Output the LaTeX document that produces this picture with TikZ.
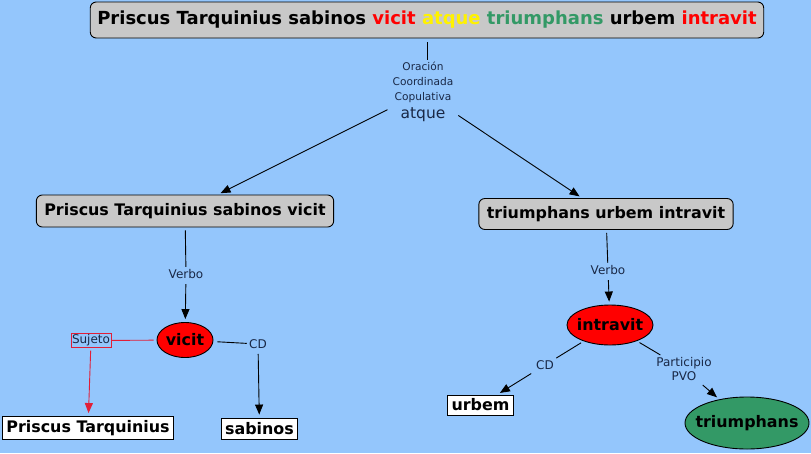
\documentclass[tikz,border=0pt]{standalone}
\usepackage{fontspec}
\setmainfont{DejaVu Sans}
\usetikzlibrary{arrows.meta, shapes.geometric}

\definecolor{fondo}{RGB}{148,198,252}
\definecolor{gris}{RGB}{200,200,200}
\definecolor{verde}{RGB}{51,153,102}
\definecolor{tinta}{RGB}{25,40,70}
\definecolor{carmin}{RGB}{225,30,55}

\newcommand{\nuc}[1]{\makebox[0pt]{#1}}

\tikzset{
  frase/.style={draw, fill=gris, rounded corners=6pt, inner xsep=8pt,
    font=\fontsize{15.9}{18}\selectfont\bfseries},
  palabra/.style={draw, fill=white, inner xsep=4pt, inner ysep=1pt,
    font=\fontsize{15.9}{18}\selectfont\bfseries},
  nucleo/.style={ellipse, draw, inner sep=0pt,
    font=\fontsize{15.9}{18}\selectfont\bfseries},
  etiq/.style={fill=fondo, text=tinta, inner sep=2pt, align=center,
    font=\fontsize{12}{14}\selectfont},
  flecha/.style={-{Triangle[length=10pt,width=8pt]}, shorten >=3pt, shorten <=3pt},
}

\begin{document}
\begin{tikzpicture}[x=1pt, y=-1pt, line width=0.9pt]
  \useasboundingbox (0,0) rectangle (811,453);
  \fill[fondo] (0,0) rectangle (811,453);

  % oraciones
  \node[frase, minimum height=36pt, inner xsep=7pt,
    font=\fontsize{18}{20}\selectfont\bfseries] (titulo) at (427,20)
    {Priscus Tarquinius sabinos \textcolor{red}{vicit} \textcolor{yellow}{atque}
     \textcolor{verde}{triumphans} urbem \textcolor{red}{intravit}};
  \node[frase, minimum height=32pt] (izq) at (185,211) {Priscus Tarquinius sabinos vicit};
  \node[frase, minimum height=31pt] (der) at (606,214) {triumphans urbem intravit};

  % verbos y complementos
  \node[nucleo, fill=red, minimum width=56pt, minimum height=35pt] (vicit) at (185,340) {\nuc{vicit}};
  \node[nucleo, fill=red, minimum width=86pt, minimum height=40pt] (intravit) at (610,325) {\nuc{intravit}};
  \node[nucleo, fill=verde, minimum width=124pt, minimum height=52pt] (triumphans) at (747,423) {\nuc{triumphans}};
  \node[palabra, minimum height=23pt] (priscus) at (88,428) {Priscus Tarquinius};
  \node[palabra, minimum height=21pt] (sabinos) at (259.5,428.5) {sabinos};
  \node[palabra, minimum height=20pt] (urbem) at (480.5,405) {urbem};

  % etiquetas
  \node[etiq, font=\fontsize{10.6}{15}\selectfont] (oracion) at (423,92)
    {Oración\\Coordinada\\Copulativa\\[3pt]{\fontsize{15.5}{17}\selectfont atque}};
  \node[etiq] (verbo1) at (186,274) {Verbo};
  \node[etiq, draw=carmin, line width=0.7pt, inner sep=1pt] (sujeto) at (91,340.5) {Sujeto};
  \node[etiq] (cd1) at (258,344) {CD};
  \node[etiq] (verbo2) at (608,270) {Verbo};
  \node[etiq] (cd2) at (545,365) {CD};
  \node[etiq] (pvo) at (684,369) {Participio\\PVO};

  % conectores
  \draw[shorten <=4pt] (titulo.south) -- (titulo.south |- oracion.north);
  \draw[flecha] (oracion) -- (izq);
  \draw[flecha] (oracion) -- (der);

  \draw[shorten <=3pt] (izq) -- (verbo1);
  \draw[flecha] (verbo1) -- (vicit);
  \draw[carmin, shorten <=3pt] (vicit) -- (sujeto);
  \draw[flecha, carmin] (sujeto) -- (priscus);
  \draw[shorten <=4pt] (vicit) -- (cd1);
  \draw[flecha] (cd1) -- (sabinos);

  \draw[shorten <=3pt] (der) -- (verbo2);
  \draw[flecha] (verbo2) -- (intravit);
  \draw[shorten <=3pt] (intravit) -- (cd2);
  \draw[flecha] (cd2) -- (urbem);
  \draw[shorten <=3pt] (intravit) -- (pvo);
  \draw[flecha] (pvo) -- (triumphans);
\end{tikzpicture}
\end{document}
